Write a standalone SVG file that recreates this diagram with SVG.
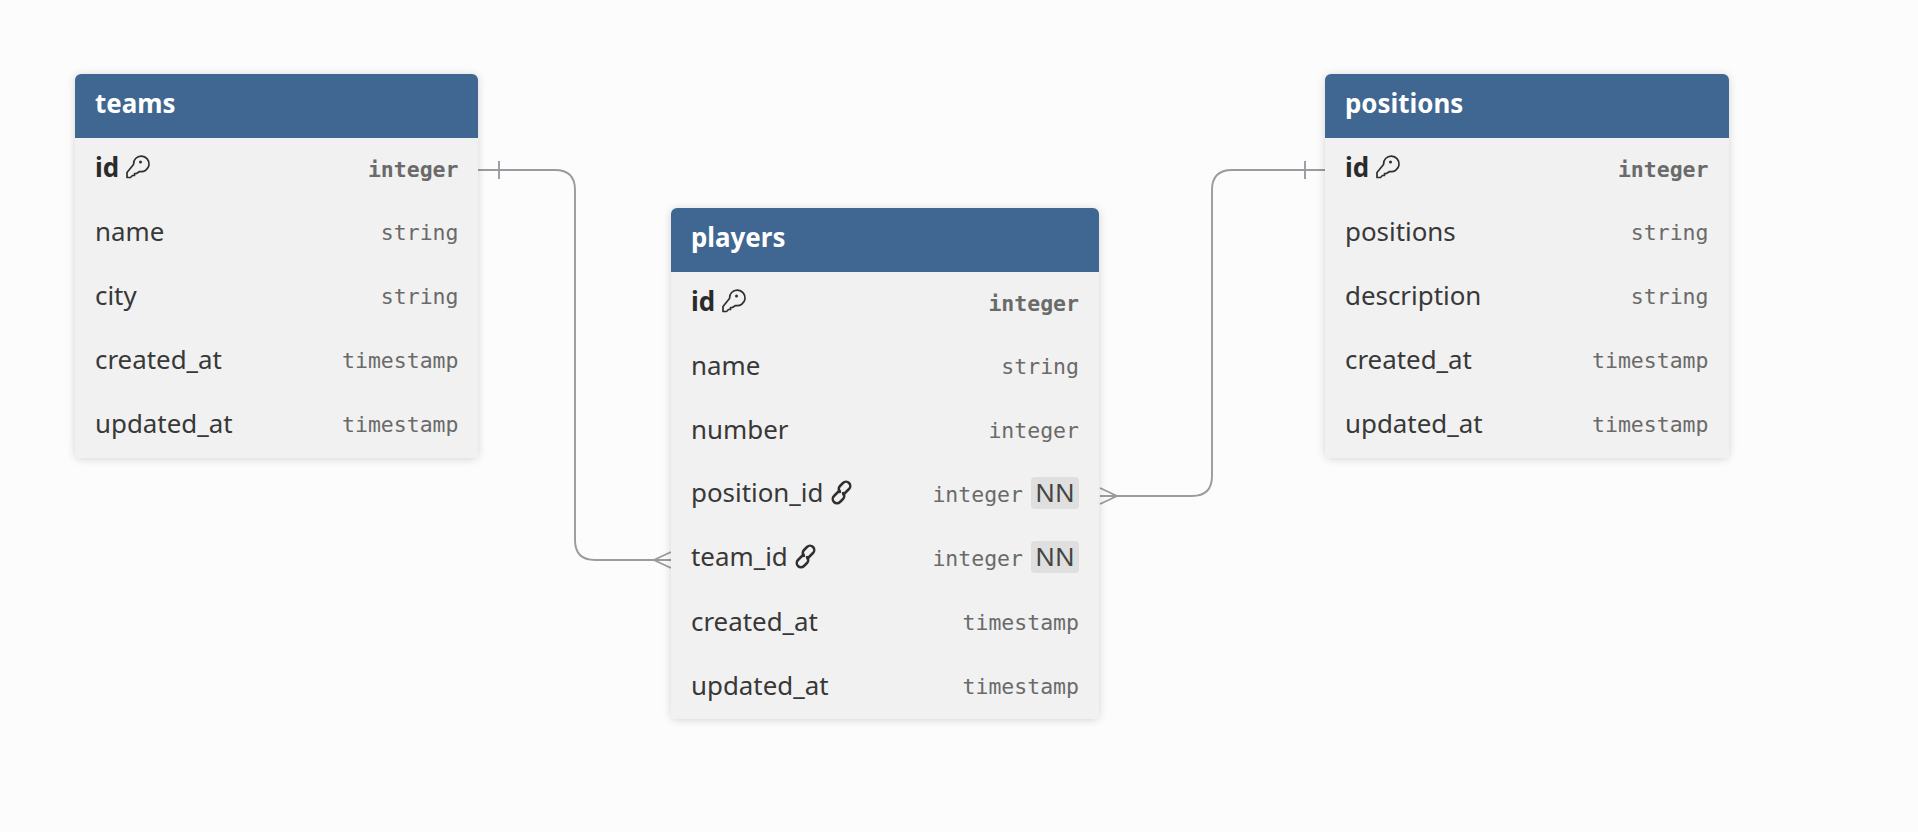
<svg xmlns="http://www.w3.org/2000/svg" width="1918" height="832" viewBox="0 0 1918 832">
<style>
.card{fill:#f1f1f1;filter:url(#sh)}
.hd{fill:#406791}
.t{font:700 25.900px "Noto Sans",sans-serif;fill:#fff}
.n{font:400 25.900px "Noto Sans",sans-serif;fill:#383838}
.b{font:700 25.900px "Noto Sans",sans-serif;fill:#2a2a2a}
.y{font:400 21.5px "DejaVu Sans Mono",monospace;fill:#6a6a6a;text-anchor:end}
.yb{font:700 21.5px "DejaVu Sans Mono",monospace;fill:#6a6a6a;text-anchor:end}
.nn{fill:#dfdfdf}
.nt{font:400 25.900px "Noto Sans",sans-serif;fill:#444;text-anchor:middle}
.c{fill:none;stroke:#9a9aa0;stroke-width:1.9}
.i{fill:none;stroke:#2f2f2f;stroke-width:1.7;stroke-linejoin:round;stroke-linecap:round}
.l{fill:none;stroke:#2f2f2f;stroke-width:2.5;stroke-linecap:round}
</style>
<defs>
<filter id="sh" x="-10%" y="-10%" width="120%" height="120%"><feDropShadow dx="0" dy="1" stdDeviation="4" flood-color="#000" flood-opacity=".16"/></filter>
<g id="key"><path class="i" d="M9 8.500A7.800 7.800 0 1 1 15 15.500L12 17.500H10V19.500H8L6 21.500H2.500V16.500Z"/><circle cx="16" cy="6" r="1.500" fill="#2f2f2f"/></g>
<g id="lnk"><path class="l" d="M8.500 8.500L3 14a4.200 4.200 0 0 0 6 6L12 17a4.200 4.200 0 0 0 0-6"/><path class="l" d="M12.500 12.500L18 7a4.200 4.200 0 0 0-6-6L9 4a4.200 4.200 0 0 0 0 6"/></g>
</defs>
<rect width="1918" height="832" fill="#fcfcfc"/>
<g id="connectors">
<path class="c" d="M478 170H555Q575 170 575 190V540Q575 560 595 560H671"/>
<path class="c" d="M499 161V179M671 552 654 560 671 568"/>
<path class="c" d="M1100 496H1192Q1212 496 1212 476V190Q1212 170 1232 170H1325"/>
<path class="c" d="M1305 161V179M1100 488 1117 496 1100 504"/>
</g>
<g id="teams">
<rect class="card" x="75" y="74" width="403" height="384" rx="6"/>
<path class="hd" d="M75 138V80a6 6 0 0 1 6-6H472a6 6 0 0 1 6 6V138Z"/>
<text class="t" x="95" y="113">teams</text>
<text class="b" x="95" y="177">id</text><use href="#key" x="124.500" y="156"/><text class="yb" x="458.500" y="177">integer</text>
<text class="n" x="95" y="241">name</text><text class="y" x="458.500" y="240">string</text>
<text class="n" x="95" y="305">city</text><text class="y" x="458.500" y="304">string</text>
<text class="n" x="95" y="369">created_at</text><text class="y" x="458.500" y="368">timestamp</text>
<text class="n" x="95" y="433">updated_at</text><text class="y" x="458.500" y="432">timestamp</text>
</g>
<g id="players">
<rect class="card" x="671" y="208" width="428" height="511" rx="6"/>
<path class="hd" d="M671 272V214a6 6 0 0 1 6-6H1093a6 6 0 0 1 6 6V272Z"/>
<text class="t" x="691" y="247">players</text>
<text class="b" x="691" y="311">id</text><use href="#key" x="720.500" y="290"/><text class="yb" x="1079" y="311">integer</text>
<text class="n" x="691" y="375">name</text><text class="y" x="1079" y="374">string</text>
<text class="n" x="691" y="439">number</text><text class="y" x="1079" y="438">integer</text>
<text class="n" x="691" y="502">position_id</text><use href="#lnk" x="831" y="482"/><text class="y" x="1023" y="502">integer</text>
<rect class="nn" x="1031" y="477" width="48" height="32" rx="4"/><text class="nt" x="1055" y="502">NN</text>
<text class="n" x="691" y="566">team_id</text><use href="#lnk" x="795" y="546"/><text class="y" x="1023" y="566">integer</text>
<rect class="nn" x="1031" y="541" width="48" height="32" rx="4"/><text class="nt" x="1055" y="566">NN</text>
<text class="n" x="691" y="631">created_at</text><text class="y" x="1079" y="630">timestamp</text>
<text class="n" x="691" y="695">updated_at</text><text class="y" x="1079" y="694">timestamp</text>
</g>
<g id="positions">
<rect class="card" x="1325" y="74" width="404" height="384" rx="6"/>
<path class="hd" d="M1325 138V80a6 6 0 0 1 6-6H1723a6 6 0 0 1 6 6V138Z"/>
<text class="t" x="1345" y="113">positions</text>
<text class="b" x="1345" y="177">id</text><use href="#key" x="1374.500" y="156"/><text class="yb" x="1708.500" y="177">integer</text>
<text class="n" x="1345" y="241">positions</text><text class="y" x="1708.500" y="240">string</text>
<text class="n" x="1345" y="305">description</text><text class="y" x="1708.500" y="304">string</text>
<text class="n" x="1345" y="369">created_at</text><text class="y" x="1708.500" y="368">timestamp</text>
<text class="n" x="1345" y="433">updated_at</text><text class="y" x="1708.500" y="432">timestamp</text>
</g>
</svg>
